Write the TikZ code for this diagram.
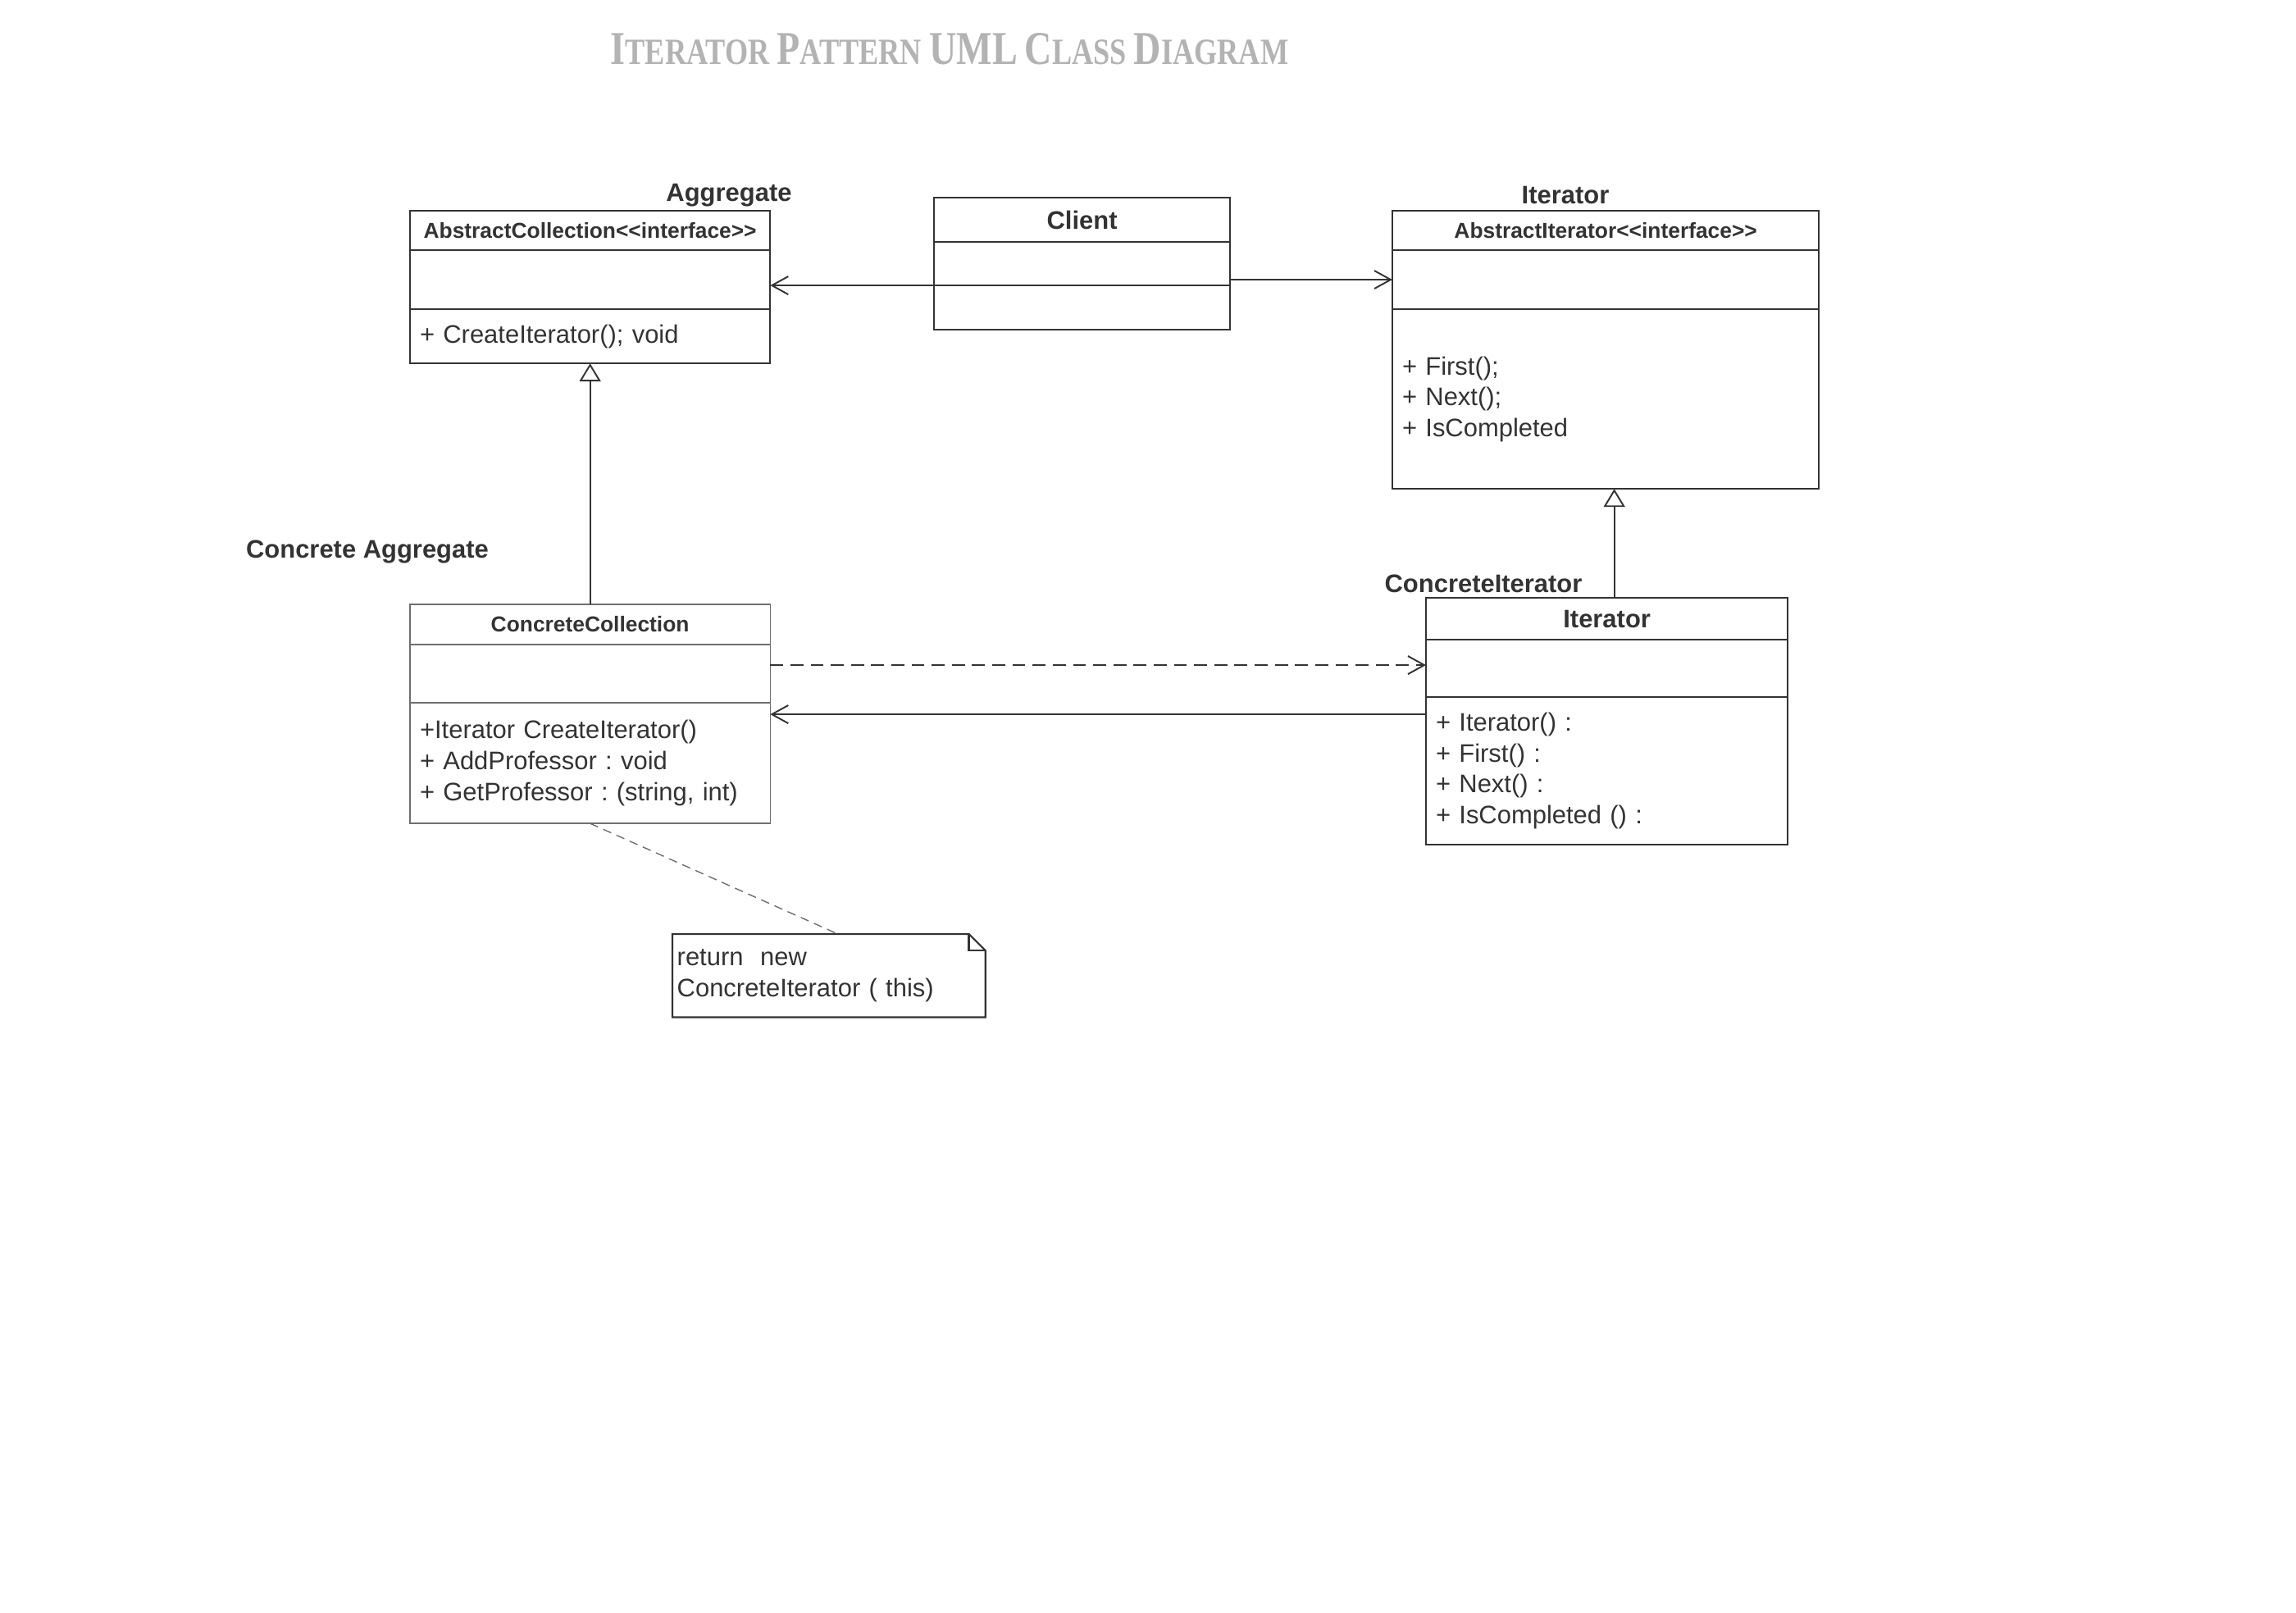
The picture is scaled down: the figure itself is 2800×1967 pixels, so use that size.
\documentclass[tikz,border=0pt]{standalone}
\usepackage{fontspec}
\setmainfont{Liberation Sans}
\newfontfamily\headfont{Liberation Serif}
\usetikzlibrary{arrows.meta}
\definecolor{ink}{HTML}{333333}
\definecolor{softink}{HTML}{6E6E6E}
\definecolor{headgray}{HTML}{B3B3B3}
\newcommand{\opsfont}{\fontsize{8.8}{10.7}\selectfont\frenchspacing}
\newcommand{\namefont}{\fontsize{8.8}{10.7}\selectfont\bfseries}
\newcommand{\stereofont}{\fontsize{7.5}{9}\selectfont\bfseries}
\newcommand{\lgl}{<\kern0pt<}
\newcommand{\rgl}{>\kern0pt>}
\newcommand{\bigsc}[1]{{\fontsize{14}{14}\selectfont #1}}
\tikzset{
  part/.style={draw=ink, line width=0.65pt, anchor=north west, inner sep=0pt, outer sep=0pt, text=ink},
  softpart/.style={part, draw=softink, line width=0.4pt},
  opsbox/.style={align=left, font=\opsfont},
  lbl/.style={font=\namefont, text=ink},
  assoc/.style={ink, line width=0.55pt, -{Straight Barb[length=0.2cm,width=0.22cm]}},
  realize/.style={ink, line width=0.55pt, -{Triangle[open,length=0.22cm,width=0.26cm,fill=white]}}
}

\begin{document}
\begin{tikzpicture}[x=0.01cm,y=-0.01cm]
\useasboundingbox (0,0) rectangle (2800,1967);
\node[text=headgray] (heading) at (1158,60) {\resizebox{8.26cm}{0.38cm}{\headfont\bfseries\fontsize{11}{11}\selectfont \bigsc{I}TERATOR \bigsc{P}ATTERN \bigsc{UML} \bigsc{C}LASS \bigsc{D}IAGRAM}};

\node[part, minimum width=4.39cm, minimum height=0.48cm, font=\stereofont] (acTop) at (500,257) {AbstractCollection\lgl interface\rgl};
\node[part, minimum width=4.39cm, minimum height=0.72cm] (acAttr) at (acTop.south west) {};
\node[part, opsbox, minimum width=4.39cm, minimum height=0.66cm, text width=4.15cm] (acOps) at (acAttr.south west) {+ CreateIterator(); void};
\node[lbl] (acLbl) at (889,238) {Aggregate};

\node[part, minimum width=3.61cm, minimum height=0.54cm, font=\namefont] (cliTop) at (1139,241) {Client};
\node[part, minimum width=3.61cm, minimum height=0.53cm] (cliAttr) at (cliTop.south west) {};
\node[part, minimum width=3.61cm, minimum height=0.54cm] (cliOps) at (cliAttr.south west) {};

\node[part, minimum width=5.2cm, minimum height=0.48cm, font=\stereofont] (aiTop) at (1698,257) {AbstractIterator\lgl interface\rgl};
\node[part, minimum width=5.2cm, minimum height=0.72cm] (aiAttr) at (aiTop.south west) {};
\node[part, opsbox, minimum width=5.2cm, minimum height=2.19cm, text width=4.96cm] (aiOps) at (aiAttr.south west) {+ First();\\+ Next();\\+ IsCompleted};
\node[lbl] (aiLbl) at (1909,238) {Iterator};

\node[part, minimum width=4.41cm, minimum height=0.51cm, font=\namefont] (ciTop) at (1739,729) {Iterator};
\node[part, minimum width=4.41cm, minimum height=0.70cm] (ciAttr) at (ciTop.south west) {};
\node[part, opsbox, minimum width=4.41cm, minimum height=1.80cm, text width=4.17cm] (ciOps) at (ciAttr.south west) {+ Iterator() :\\+ First() :\\+ Next() :\\+ IsCompleted () :};
\node[lbl] (ciLbl) at (1809,712) {ConcreteIterator};

\node[softpart, minimum width=4.39cm, minimum height=0.49cm, font=\stereofont] (ccTop) at (500,737) {ConcreteCollection};
\node[softpart, minimum width=4.39cm, minimum height=0.71cm] (ccAttr) at (ccTop.south west) {};
\node[softpart, opsbox, minimum width=4.39cm, minimum height=1.47cm, text width=4.15cm] (ccOps) at (ccAttr.south west) {+Iterator CreateIterator()\\+ AddProfessor : void\\+ GetProfessor : (string, int)};
\node[lbl] (ccLbl) at (448,673) {Concrete Aggregate};

\node[anchor=north west, inner sep=0pt, minimum width=3.8cm, minimum height=1cm, text width=3.7cm, opsbox, text=ink] (memo) at (820,1139) {return\ \ new\\ConcreteIterator ( this)};
\draw[ink, line width=0.65pt] (memo.north west) -- ([xshift=-0.2cm]memo.north east) -- ([yshift=-0.2cm]memo.north east) -- (memo.south east) -- (memo.south west) -- cycle;
\draw[ink, line width=0.65pt] ([xshift=-0.2cm]memo.north east) |- ([yshift=-0.2cm]memo.north east);

\draw[assoc] (cliAttr.south west) -- (cliAttr.south west -| acAttr.east);
\draw[assoc] (aiAttr.west -| cliAttr.east) -- (aiAttr.west);
\draw[realize] (ccTop.north) -- (acOps.south);
\draw[realize] ([xshift=0.09cm]ciTop.north) -- ([xshift=0.09cm]ciTop.north |- aiOps.south);
\draw[assoc, dash pattern=on 4.5pt off 2.5pt] ([yshift=0.04cm]ciAttr.west -| ccAttr.east) -- ([yshift=0.04cm]ciAttr.west);
\draw[assoc] ([yshift=-0.21cm]ciOps.north west) -- ([yshift=-0.21cm]ciOps.north west -| ccOps.east);
\draw[softink, line width=0.4pt, dash pattern=on 3pt off 2pt] (ccOps.south) -- ([xshift=0.11cm]memo.north);
\end{tikzpicture}
\end{document}
